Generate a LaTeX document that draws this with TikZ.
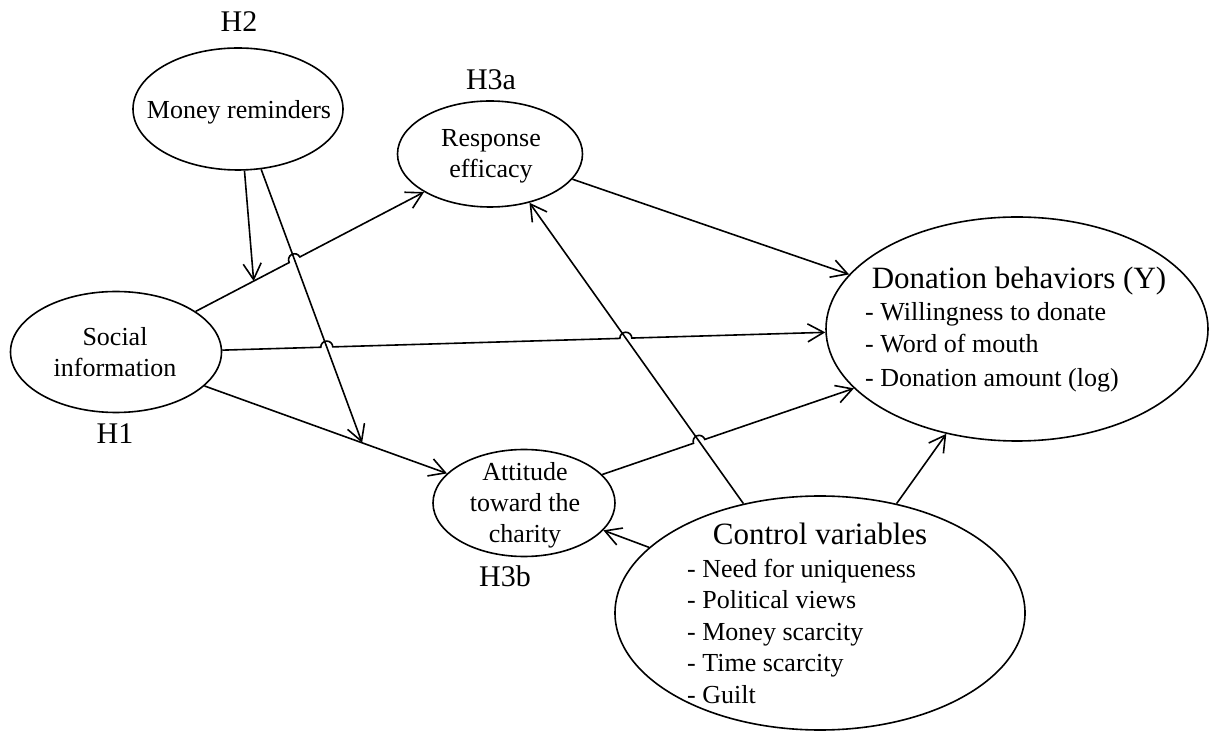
\documentclass[tikz,border=0pt]{standalone}
\usepackage{fontspec}
\setmainfont{Liberation Serif}
\usetikzlibrary{shapes.geometric,arrows.meta,calc,intersections}
\begin{document}
\begin{tikzpicture}[x=1pt,y=1pt,
  ell/.style={draw, ellipse, inner sep=0pt, line width=1.6pt},
  arr/.style={line width=1.6pt, -{Straight Barb[length=16pt,width=18pt,line width=1.6pt]}},
  tx/.style={inner sep=0pt, font=\fontsize{26}{31}\selectfont, align=center},
  big/.style={inner sep=0pt, font=\fontsize{31}{36}\selectfont, anchor=base},
  hl/.style={inner sep=0pt, font=\fontsize{30}{34}\selectfont, anchor=base},
  item/.style={inner sep=0pt, font=\fontsize{26}{31}\selectfont, anchor=base west}
]
\useasboundingbox (0,0) rectangle (1209,731);

% ellipses
\node[ell, minimum width=210pt, minimum height=122pt] (mr) at (238,622) {};
\node[ell, minimum width=185pt, minimum height=106pt] (re) at (490,577) {};
\node[ell, minimum width=211pt, minimum height=121pt] (si) at (116,379) {};
\node[ell, minimum width=182pt, minimum height=107pt] (at) at (524,228) {};
\node[ell, minimum width=382pt, minimum height=224pt] (db) at (1017,402) {};
\node[ell, minimum width=410pt, minimum height=234pt] (cv) at (820,118) {};

% texts
\node[tx] (mrt) at (239,619) {Money reminders};
\node[tx] (ret) at (491,575) {Response\\efficacy};
\node[tx] (sit) at (115,379) {Social\\information};
\node[tx] (att) at (525,225.5) {Attitude\\toward the\\charity};

\node[big] (dbt) at (1019,442) {Donation behaviors (Y)};
\node[item] (db1) at (865,410) {- Willingness to donate};
\node[item] (db2) at (865,378) {- Word of mouth};
\node[item] (db3) at (865,344) {- Donation amount (log)};

\node[big] (cvt) at (820,186) {Control variables};
\node[item] (cv1) at (687,154) {- Need for uniqueness};
\node[item] (cv2) at (687,123) {- Political views};
\node[item] (cv3) at (687,91) {- Money scarcity};
\node[item] (cv4) at (687,60) {- Time scarcity};
\node[item] (cv5) at (687,28) {- Guilt};

% hypothesis labels
\node[hl] (lh2) at (239,699) {H2};
\node[hl] (lh3a) at (491,641) {H3a};
\node[hl] (lh1) at (115,287) {H1};
\node[hl] (lh3b) at (505,145) {H3b};

% moderating arrows
\coordinate (t1) at ($(si.27)!0.254!(re.210)$);
\coordinate (t2) at ($(si.339)!0.65!(at.159)$);
\draw[arr] (mr.276) -- (t1);
\draw[arr, name path=mrat] (mr.291) -- (t2);

% straight arrows
\draw[arr, name path=cvre] (cv.125) -- (re.309);
\draw[arr] (si.339) -- (at.159);
\draw[arr] (re.343) -- (db.162);
\draw[arr] (cv.159) -- (at.341);
\draw[arr] (cv.55) -- (db.236);

% arrows with hops
\path[name path=sire] (si.27) -- (re.210);
\path[name intersections={of=sire and mrat, by=h1}];
\draw[arr] let \p1=(si.27), \p2=(re.210), \n1={atan2(\y2-\y1,\x2-\x1)} in
  (si.27) -- ($(h1)!6pt!(si.27)$)
  arc[start angle=\n1+180, end angle=\n1, radius=6pt] -- (re.210);

\path[name path=sidb] (si.1) -- (db.181);
\path[name intersections={of=sidb and mrat, by=h2}];
\path[name intersections={of=sidb and cvre, by=h3}];
\draw[arr] let \p1=(si.1), \p2=(db.181), \n1={atan2(\y2-\y1,\x2-\x1)} in
  (si.1) -- ($(h2)!6pt!(si.1)$)
  arc[start angle=\n1+180, end angle=\n1, radius=6pt]
  -- ($(h3)!6pt!(si.1)$)
  arc[start angle=\n1+180, end angle=\n1, radius=6pt] -- (db.181);

\path[name path=atdb] (at.20) -- (db.200);
\path[name intersections={of=atdb and cvre, by=h4}];
\draw[arr] let \p1=(at.20), \p2=(db.200), \n1={atan2(\y2-\y1,\x2-\x1)} in
  (at.20) -- ($(h4)!6pt!(at.20)$)
  arc[start angle=\n1+180, end angle=\n1, radius=6pt] -- (db.200);
\end{tikzpicture}
\end{document}
